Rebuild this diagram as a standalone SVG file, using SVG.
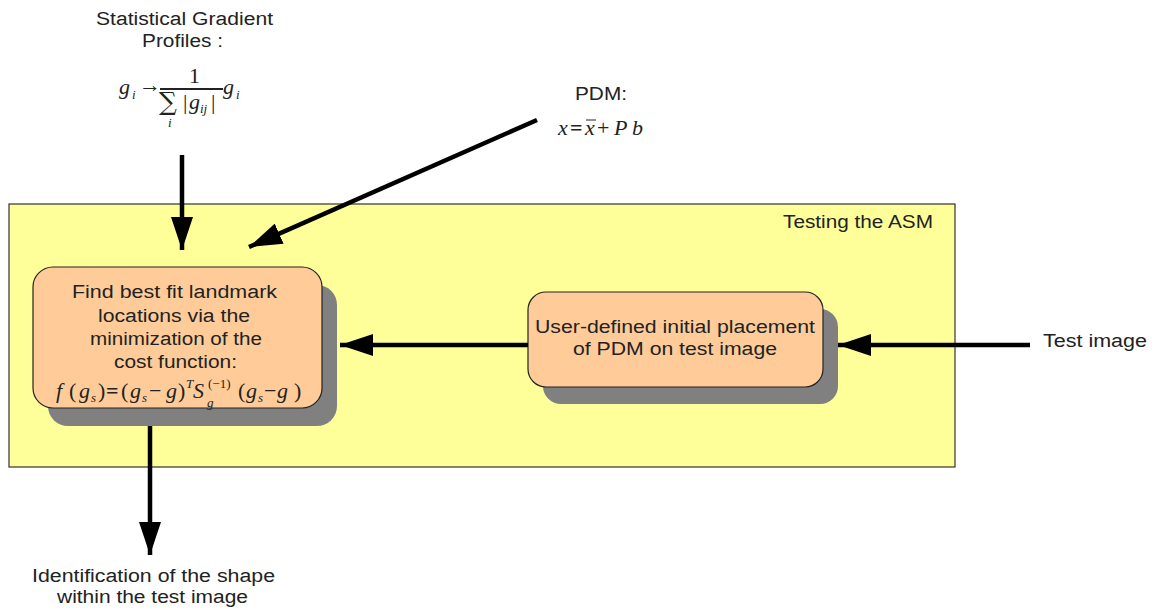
<svg xmlns="http://www.w3.org/2000/svg" width="1158" height="610" viewBox="0 0 1158 610">
<style>
.t{font-family:"Liberation Sans",Arial,sans-serif;font-size:18px;fill:#222;}
.m{font-family:"Liberation Serif","Times New Roman",serif;font-style:italic;fill:#222;font-size:22px;}
.n{font-style:normal;}
.s{font-size:13px;}
.box{fill:#FFCC99;stroke:#222;stroke-width:1.2;}
.shadow{fill:#808080;}
.conn{stroke:#000;stroke-width:4.5;fill:none;marker-end:url(#ah);}
</style>
<defs>
<marker id="ah" markerUnits="userSpaceOnUse" markerWidth="34" markerHeight="22" refX="33" refY="11" orient="auto">
<path d="M0,0 L33,11 L0,22 Z" fill="#000"/>
</marker>
</defs>
<rect width="1158" height="610" fill="#fff"/>

<g id="testing-asm">
<rect x="9" y="204" width="946" height="263" fill="#FFFF99" stroke="#333" stroke-width="1.2"/>
<text class="t" x="783" y="228" textLength="150" lengthAdjust="spacingAndGlyphs">Testing the ASM</text>
</g>

<g id="gradient-profiles">
<text class="t" x="96" y="25" textLength="177" lengthAdjust="spacingAndGlyphs">Statistical Gradient</text>
<text class="t" x="142" y="47" textLength="81" lengthAdjust="spacingAndGlyphs">Profiles :</text>
<text class="m" x="119" y="94">g</text>
<text class="m s" x="132" y="99">i</text>
<text class="m n" x="139" y="92" font-size="19">→</text>
<text class="m n" x="189" y="83">1</text>
<line x1="160" y1="89" x2="223" y2="89" stroke="#222" stroke-width="1.8"/>
<text class="n" x="159" y="110" font-family="DejaVu Serif,serif" font-size="25" fill="#222">∑</text>
<text class="m s" x="168" y="127" font-size="11">i</text>
<text class="m n" x="183" y="109">|</text>
<text class="m" x="189" y="109">g</text>
<text class="m s" x="200" y="113" font-size="11">ij</text>
<text class="m n" x="211" y="109">|</text>
<text class="m" x="223" y="94">g</text>
<text class="m s" x="236" y="99">i</text>
</g>

<g id="pdm">
<text class="t" x="575" y="100" textLength="52" lengthAdjust="spacingAndGlyphs">PDM:</text>
<text class="m" x="558" y="135">x</text>
<text class="m n" x="570" y="135" font-weight="bold">=</text>
<text class="m" x="585" y="135">x</text>
<line x1="586" y1="120" x2="596" y2="120" stroke="#222" stroke-width="1"/>
<text class="m n" x="597" y="135">+</text>
<text class="m" x="614" y="135">P</text>
<text class="m" x="632" y="135">b</text>
</g>

<g id="find-best-fit">
<rect class="shadow" x="48" y="285" width="289" height="141" rx="20"/>
<rect class="box" x="33" y="267" width="289" height="141" rx="20"/>
<text class="t" x="72" y="298" textLength="205" lengthAdjust="spacingAndGlyphs">Find best fit landmark</text>
<text class="t" x="98" y="322" textLength="152" lengthAdjust="spacingAndGlyphs">locations via the</text>
<text class="t" x="90" y="345" textLength="172" lengthAdjust="spacingAndGlyphs">minimization of the</text>
<text class="t" x="114" y="368" textLength="123" lengthAdjust="spacingAndGlyphs">cost function:</text>
<text class="m" x="56" y="398">f</text>
<text class="m n" x="69" y="398">(</text>
<text class="m" x="79" y="398">g</text>
<text class="m s" x="91" y="402">s</text>
<text class="m n" x="98" y="398">)</text>
<text class="m n" x="106" y="398" font-weight="bold">=</text>
<text class="m n" x="121" y="398">(</text>
<text class="m" x="130" y="398">g</text>
<text class="m s" x="142" y="402">s</text>
<text class="m n" x="149" y="398">−</text>
<text class="m" x="166" y="398">g</text>
<text class="m n" x="178" y="398">)</text>
<text class="m s" x="186" y="388">T</text>
<text class="m" x="193" y="398">S</text>
<text class="m s" x="207" y="407">g</text>
<text class="m n s" x="208" y="388">(−1)</text>
<text class="m n" x="238" y="398">(</text>
<text class="m" x="246" y="398">g</text>
<text class="m s" x="258" y="402">s</text>
<text class="m n" x="264" y="398">−</text>
<text class="m" x="277" y="398">g</text>
<text class="m n" x="294" y="398">)</text>
</g>

<g id="initial-placement">
<rect class="shadow" x="543" y="309" width="295" height="95" rx="18"/>
<rect class="box" x="528" y="292" width="295" height="95" rx="18"/>
<text class="t" x="535" y="333" textLength="280" lengthAdjust="spacingAndGlyphs">User-defined initial placement</text>
<text class="t" x="573" y="355" textLength="204" lengthAdjust="spacingAndGlyphs">of PDM on test image</text>
</g>

<g id="test-image">
<text class="t" x="1043" y="347" textLength="104" lengthAdjust="spacingAndGlyphs">Test image</text>
</g>

<g id="identification">
<text class="t" x="32" y="582" textLength="243" lengthAdjust="spacingAndGlyphs">Identification of the shape</text>
<text class="t" x="57" y="603" textLength="191" lengthAdjust="spacingAndGlyphs">within the test image</text>
</g>

<g id="connectors">
<line class="conn" x1="182" y1="155" x2="182" y2="250"/>
<line class="conn" x1="537" y1="120" x2="249" y2="247"/>
<line class="conn" x1="528" y1="345" x2="340" y2="345"/>
<line class="conn" x1="1030" y1="345" x2="838" y2="345"/>
<line class="conn" x1="150" y1="426" x2="150" y2="555"/>
</g>
</svg>
